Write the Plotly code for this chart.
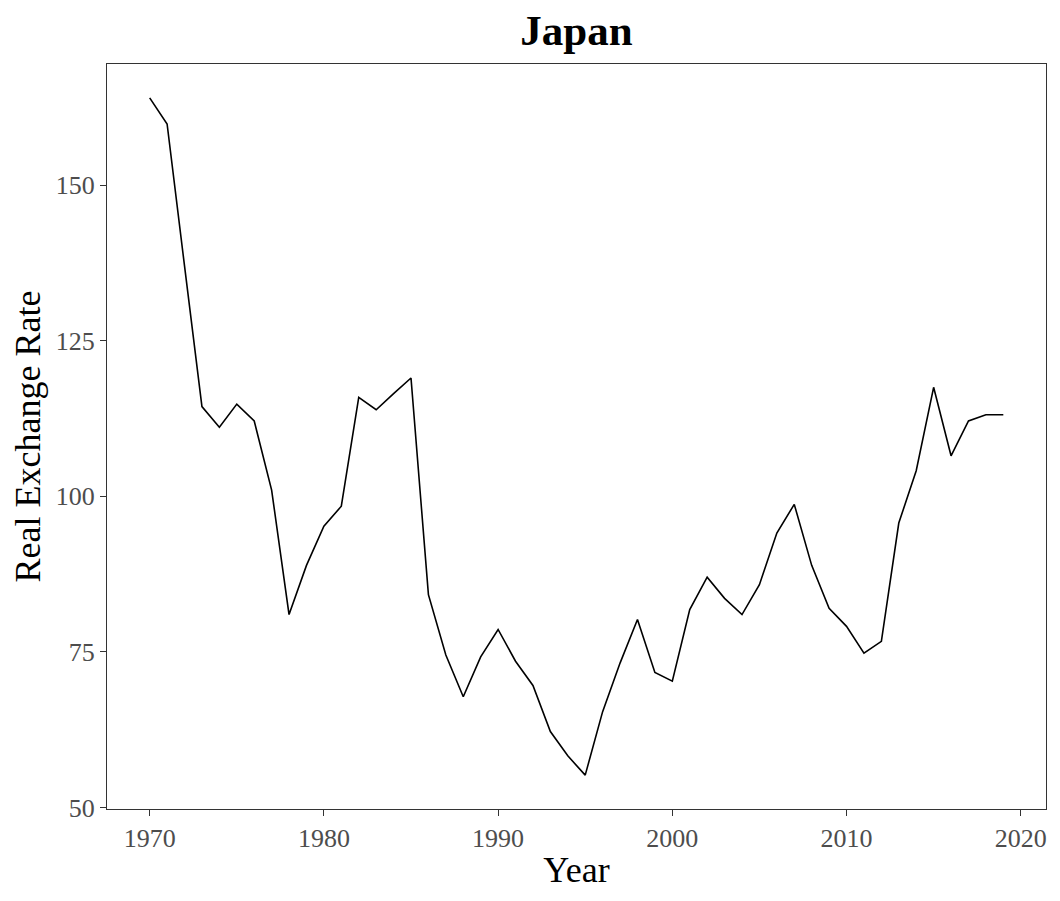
import plotly.graph_objects as go

# Japan real exchange rate
years = list(range(1970, 2020))
rate = [
    164.0, 159.8, 137.0, 114.4, 111.1, 114.8, 112.1, 101.0, 81.0, 88.9,
    95.2, 98.4, 115.9, 113.9, 116.5, 119.0, 84.2, 74.5, 67.8, 74.2,
    78.6, 73.5, 69.6, 62.2, 58.3, 55.2, 65.4, 73.2, 80.2, 71.7,
    70.3, 81.8, 87.0, 83.6, 81.0, 85.8, 94.1, 98.7, 88.9, 82.0,
    79.1, 74.8, 76.7, 95.7, 104.1, 117.5, 106.5, 112.1, 113.1, 113.1,
]
x_ticks = [1970, 1980, 1990, 2000, 2010, 2020]
y_ticks = [50, 75, 100, 125, 150]

serif = "Liberation Serif, Times New Roman, serif"

fig = go.Figure(
    go.Scatter(x=years, y=rate, mode="lines", line=dict(color="black", width=1.6), showlegend=False)
)

axis_common = dict(
    showgrid=False,
    zeroline=False,
    showline=True,
    linecolor="#333333",
    linewidth=1.2,
    mirror=True,
    ticks="outside",
    ticklen=6,
    tickwidth=1.2,
    tickcolor="#333333",
    tickfont=dict(family=serif, size=26, color="#4D4D4D"),
)

# page body has an 8px margin, so the figure is a bit smaller than the window
fig.update_layout(
    width=1044,
    height=885,
    paper_bgcolor="white",
    plot_bgcolor="white",
    margin=dict(l=99, r=6, t=56, b=84),
    title=dict(
        text="<b>Japan</b>",
        x=(99 + 939 / 2) / 1044,  # centred over the plot panel
        xanchor="center",
        y=1 - 22 / 885,
        yanchor="middle",
        font=dict(family=serif, size=43, color="black"),
    ),
    xaxis=dict(
        axis_common,
        range=[1967.55, 2021.45],
        tickvals=x_ticks,
        title=dict(text="Year", font=dict(family=serif, size=36, color="black"), standoff=4),
    ),
    yaxis=dict(
        axis_common,
        range=[49.76, 169.44],
        tickvals=y_ticks,
        title=dict(text="Real Exchange Rate", font=dict(family=serif, size=36, color="black"), standoff=6),
    ),
)

fig.write_html("out.html")
